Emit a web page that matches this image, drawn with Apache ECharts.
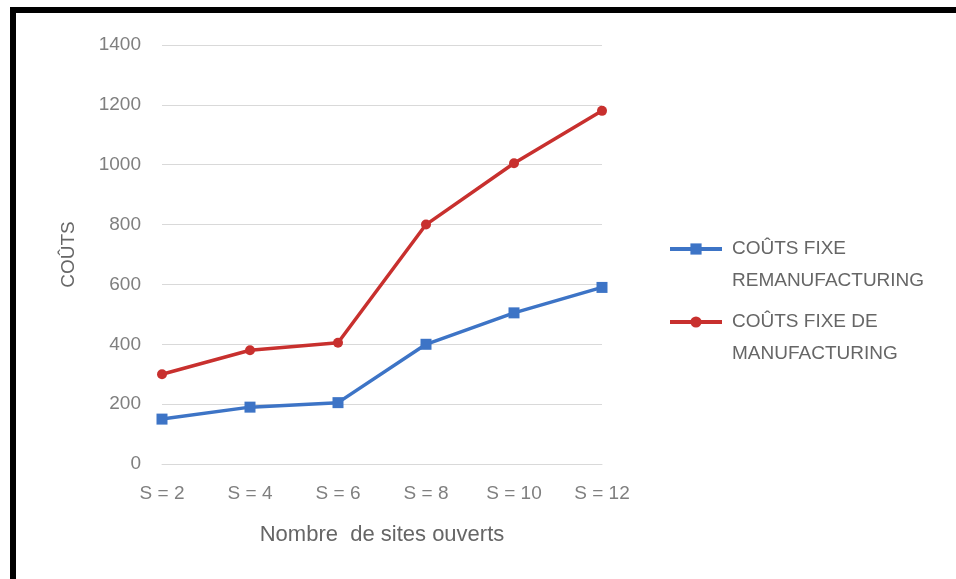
<!DOCTYPE html>
<html>
<head>
<meta charset="utf-8">
<script src="https://cdn.jsdelivr.net/npm/echarts@6/dist/echarts.min.js"></script>
<style>
  html, body { margin: 0; padding: 0; background: #fff; }
  #chart { width: 956px; height: 579px; }
  #frame {
    position: absolute; left: 10px; top: 7px; right: 0; bottom: 0;
    border-top: 6px solid #000; border-left: 6px solid #000;
    pointer-events: none;
  }
</style>
</head>
<body>
<div id="chart"></div>
<div id="frame"></div>
<script>
var categories = ['S = 2', 'S = 4', 'S = 6', 'S = 8', 'S = 10', 'S = 12'];
var remanufacturing = [150, 190, 205, 400, 505, 590];
var manufacturing = [300, 380, 405, 800, 1005, 1180];
var seriesNames = ['COÛTS FIXE REMANUFACTURING', 'COÛTS FIXE DE MANUFACTURING'];
var legendLines = {
  'COÛTS FIXE REMANUFACTURING': ['COÛTS FIXE', 'REMANUFACTURING'],
  'COÛTS FIXE DE MANUFACTURING': ['COÛTS FIXE DE', 'MANUFACTURING']
};

var font = 'Arial, "Liberation Sans", sans-serif';
var chart = echarts.init(document.getElementById('chart'), null, { renderer: 'canvas' });

function legendFor(name, color, top) {
  return {
    data: [name],
    left: 668,
    top: top,
    padding: 0,
    orient: 'vertical',
    itemWidth: 52,
    itemHeight: 14,
    selectedMode: false,
    lineStyle: { width: 4, color: color },
    // blank first line so the first real line sits level with the icon
    formatter: function (n) { return ' \n' + legendLines[n].join('\n'); },
    textStyle: {
      fontFamily: font,
      fontSize: 19,
      color: '#666',
      lineHeight: 32,
      padding: [0, 0, 0, 5]
    }
  };
}

chart.setOption({
  animation: false,
  backgroundColor: '#fff',
  legend: [
    legendFor(seriesNames[0], '#3d74c6', 201),
    legendFor(seriesNames[1], '#c8302e', 274)
  ],
  grid: { left: 162, right: 354, top: 45, bottom: 115 },
  xAxis: {
    type: 'category',
    data: categories,
    boundaryGap: false,
    name: 'Nombre  de sites ouverts',
    nameLocation: 'middle',
    nameGap: 60,
    nameTextStyle: { fontFamily: font, fontSize: 22, color: '#666' },
    axisLine: { lineStyle: { color: '#d9d9d9', width: 1 } },
    axisTick: { show: false },
    axisLabel: { fontFamily: font, fontSize: 19, color: '#7f7f7f', margin: 20 }
  },
  yAxis: {
    type: 'value',
    min: 0,
    max: 1400,
    interval: 200,
    name: 'COÛTS',
    nameLocation: 'middle',
    nameGap: 84,
    nameTextStyle: { fontFamily: font, fontSize: 19, color: '#666' },
    axisLine: { show: false },
    axisTick: { show: false },
    splitLine: { lineStyle: { color: '#d9d9d9', width: 1 } },
    axisLabel: {
      fontFamily: font, fontSize: 19, color: '#7f7f7f', margin: 21,
      formatter: function (v) { return String(v); }
    }
  },
  series: [
    {
      name: seriesNames[0],
      type: 'line',
      data: remanufacturing,
      symbol: 'rect',
      symbolSize: 11,
      itemStyle: { color: '#3d74c6' },
      lineStyle: { color: '#3d74c6', width: 3.5 }
    },
    {
      name: seriesNames[1],
      type: 'line',
      data: manufacturing,
      symbol: 'circle',
      symbolSize: 10,
      itemStyle: { color: '#c8302e' },
      lineStyle: { color: '#c8302e', width: 3.5 }
    }
  ]
});
</script>
</body>
</html>
